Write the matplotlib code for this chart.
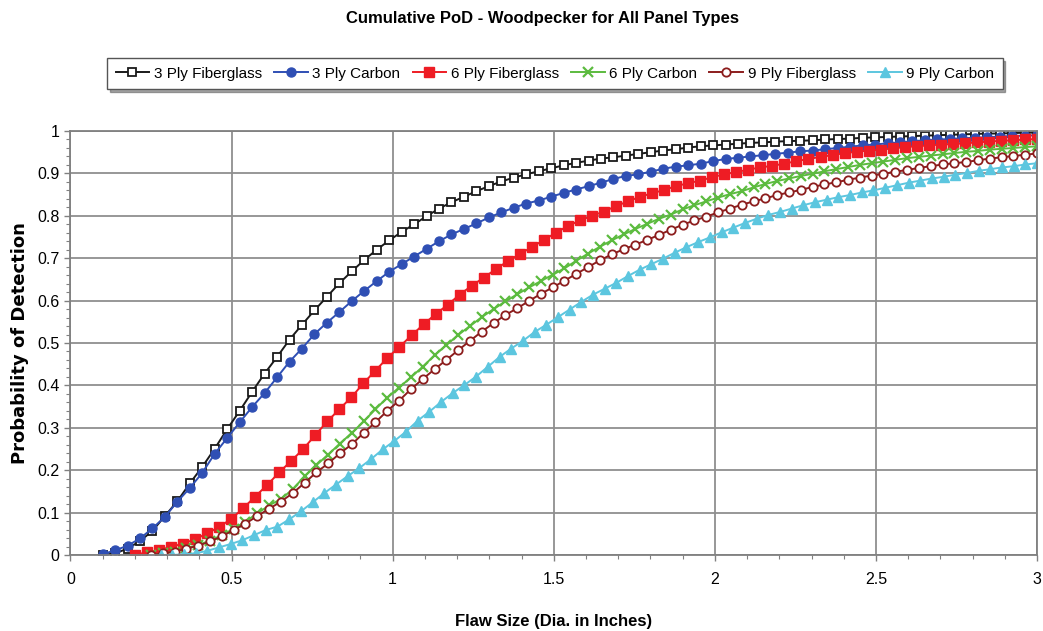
import numpy as np
import matplotlib
matplotlib.use("Agg")
import matplotlib.pyplot as plt
from matplotlib.ticker import MultipleLocator

# ---------------- data ----------------
series_names = ["3 Ply Fiberglass", "3 Ply Carbon", "6 Ply Fiberglass",
                "6 Ply Carbon", "9 Ply Fiberglass", "9 Ply Carbon"]
x_start = [0.10, 0.10, 0.20, 0.25, 0.25, 0.28]
x_end = 3.0

pod_3ply_fg = [0.000, 0.004, 0.015, 0.033, 0.057, 0.092, 0.127, 0.169, 0.208, 0.251,
               0.297, 0.340, 0.385, 0.428, 0.467, 0.508, 0.543, 0.577, 0.609, 0.641,
               0.669, 0.696, 0.720, 0.742, 0.762, 0.780, 0.799, 0.817, 0.832, 0.845,
               0.858, 0.870, 0.881, 0.890, 0.898, 0.905, 0.912, 0.919, 0.925, 0.930,
               0.935, 0.938, 0.942, 0.946, 0.950, 0.954, 0.957, 0.961, 0.964, 0.966,
               0.968, 0.970, 0.972, 0.973, 0.975, 0.976, 0.977, 0.978, 0.980, 0.981,
               0.982, 0.984, 0.985, 0.986, 0.987, 0.988, 0.989, 0.990, 0.991, 0.992,
               0.993, 0.994, 0.994, 0.995, 0.996, 0.996]

pod_3ply_c = [0.002, 0.011, 0.022, 0.039, 0.063, 0.090, 0.126, 0.158, 0.194, 0.239,
              0.276, 0.313, 0.349, 0.382, 0.419, 0.456, 0.487, 0.521, 0.548, 0.573,
              0.599, 0.623, 0.646, 0.668, 0.686, 0.704, 0.722, 0.740, 0.756, 0.769,
              0.782, 0.796, 0.808, 0.819, 0.829, 0.836, 0.845, 0.854, 0.862, 0.870,
              0.878, 0.887, 0.894, 0.898, 0.904, 0.911, 0.916, 0.919, 0.923, 0.929,
              0.934, 0.937, 0.940, 0.943, 0.946, 0.949, 0.952, 0.954, 0.957, 0.960,
              0.963, 0.966, 0.968, 0.971, 0.973, 0.976, 0.978, 0.980, 0.981, 0.983,
              0.984, 0.985, 0.987, 0.988, 0.989, 0.990]

pod_6ply_fg = [0.001, 0.006, 0.012, 0.019, 0.027, 0.037, 0.051, 0.066, 0.085, 0.110,
               0.138, 0.165, 0.195, 0.222, 0.250, 0.283, 0.315, 0.344, 0.372, 0.405,
               0.435, 0.465, 0.491, 0.518, 0.544, 0.568, 0.590, 0.614, 0.635, 0.654,
               0.674, 0.693, 0.710, 0.726, 0.743, 0.760, 0.776, 0.789, 0.800, 0.810,
               0.823, 0.834, 0.845, 0.853, 0.861, 0.870, 0.877, 0.883, 0.891, 0.898,
               0.903, 0.909, 0.914, 0.918, 0.923, 0.929, 0.934, 0.939, 0.943, 0.948,
               0.951, 0.954, 0.956, 0.959, 0.962, 0.964, 0.966, 0.968, 0.969, 0.971,
               0.973, 0.975, 0.977, 0.978, 0.980, 0.981]

pod_6ply_c = [0.000, 0.004, 0.008, 0.016, 0.024, 0.034, 0.047, 0.062, 0.079, 0.098,
              0.117, 0.132, 0.155, 0.186, 0.212, 0.237, 0.263, 0.288, 0.315, 0.344,
              0.371, 0.395, 0.419, 0.444, 0.471, 0.495, 0.519, 0.540, 0.561, 0.580,
              0.598, 0.615, 0.631, 0.646, 0.661, 0.676, 0.694, 0.711, 0.727, 0.742,
              0.756, 0.769, 0.781, 0.793, 0.803, 0.815, 0.825, 0.834, 0.843, 0.851,
              0.858, 0.867, 0.875, 0.882, 0.888, 0.894, 0.899, 0.905, 0.910, 0.915,
              0.920, 0.924, 0.928, 0.932, 0.936, 0.939, 0.942, 0.945, 0.948, 0.951,
              0.953, 0.956, 0.958, 0.960, 0.962, 0.964]

pod_9ply_fg = [0.000, 0.004, 0.008, 0.015, 0.022, 0.032, 0.044, 0.059, 0.074, 0.092,
               0.109, 0.126, 0.146, 0.170, 0.195, 0.216, 0.240, 0.261, 0.288, 0.313,
               0.340, 0.364, 0.391, 0.415, 0.438, 0.460, 0.483, 0.505, 0.527, 0.547,
               0.566, 0.582, 0.599, 0.616, 0.631, 0.647, 0.663, 0.679, 0.695, 0.709,
               0.721, 0.732, 0.743, 0.755, 0.767, 0.779, 0.789, 0.798, 0.808, 0.817,
               0.826, 0.834, 0.841, 0.849, 0.855, 0.861, 0.868, 0.874, 0.879, 0.885,
               0.890, 0.895, 0.899, 0.904, 0.908, 0.913, 0.917, 0.921, 0.924, 0.927,
               0.931, 0.935, 0.938, 0.941, 0.944, 0.947]

pod_9ply_c = [0.000, 0.000, 0.002, 0.004, 0.010, 0.018, 0.026, 0.035, 0.047, 0.059,
              0.067, 0.084, 0.103, 0.124, 0.146, 0.166, 0.186, 0.205, 0.226, 0.249,
              0.269, 0.291, 0.317, 0.338, 0.361, 0.382, 0.401, 0.421, 0.444, 0.467,
              0.487, 0.505, 0.526, 0.543, 0.561, 0.579, 0.597, 0.614, 0.628, 0.642,
              0.658, 0.673, 0.686, 0.699, 0.713, 0.726, 0.738, 0.749, 0.761, 0.772,
              0.783, 0.793, 0.802, 0.809, 0.817, 0.825, 0.832, 0.838, 0.844, 0.849,
              0.855, 0.860, 0.866, 0.872, 0.878, 0.883, 0.888, 0.892, 0.897, 0.901,
              0.906, 0.910, 0.914, 0.917, 0.921, 0.924]

series_values = [pod_3ply_fg, pod_3ply_c, pod_6ply_fg, pod_6ply_c, pod_9ply_fg, pod_9ply_c]

x_ticks = [0, 0.5, 1, 1.5, 2, 2.5, 3]
x_tick_labels = ["0", "0.5", "1", "1.5", "2", "2.5", "3"]
y_ticks = [0, 0.1, 0.2, 0.3, 0.4, 0.5, 0.6, 0.7, 0.8, 0.9, 1.0]
y_tick_labels = ["0", "0.1", "0.2", "0.3", "0.4", "0.5", "0.6", "0.7", "0.8", "0.9", "1"]

title = "Cumulative PoD - Woodpecker for All Panel Types"
x_label = "Flaw Size (Dia. in Inches)"
y_label = "Probability of Detection"

# ---------------- styles ----------------
styles = [
    dict(color="#1a1a1a", marker="s", mfc="white", mec="#1a1a1a", ms=6.0, mew=1.3),
    dict(color="#2f4fb4", marker="o", mfc="#2f4fb4", mec="#2f4fb4", ms=6.5, mew=1.0),
    dict(color="#ee1c24", marker="s", mfc="#ee1c24", mec="#ee1c24", ms=7.0, mew=1.0),
    dict(color="#5cbb3f", marker="x", mfc="#5cbb3f", mec="#5cbb3f", ms=7.0, mew=1.6),
    dict(color="#8c1d1d", marker="o", mfc="white", mec="#8c1d1d", ms=6.0, mew=1.3),
    dict(color="#5cc6df", marker="^", mfc="#5cc6df", mec="#5cc6df", ms=7.5, mew=1.0),
]

narrow = ["Liberation Sans Narrow", "Liberation Sans", "DejaVu Sans"]

fig = plt.figure(figsize=(10.43, 6.31), dpi=100)
fig.patch.set_facecolor("white")
ax = fig.add_axes([0.0675, 0.1204, 0.9268, 0.672])

handles = []
for name, vals, x0, st in zip(series_names, series_values, x_start, styles):
    xs = np.linspace(x0, x_end, len(vals))
    h, = ax.plot(xs, vals, label=name, linewidth=1.4, **st)
    handles.append(h)

ax.set_xlim(0, 3)
ax.set_ylim(0, 1)
ax.set_xticks(x_ticks)
ax.set_xticklabels(x_tick_labels, fontfamily=narrow, fontsize=11.5)
ax.set_yticks(y_ticks)
ax.set_yticklabels(y_tick_labels, fontfamily=narrow, fontsize=11.5)
ax.xaxis.set_minor_locator(MultipleLocator(0.1))
ax.yaxis.set_minor_locator(MultipleLocator(0.02))
ax.tick_params(axis="both", which="major", direction="out", length=4, color="#808080", width=1.0)
ax.tick_params(axis="both", which="minor", direction="out", length=3, color="#808080", width=0.8)
ax.tick_params(axis="x", pad=8)
ax.tick_params(axis="y", pad=4)

ax.grid(True, which="major", color="#8f8f8f", linewidth=1.3)
ax.set_axisbelow(True)
for sp in ax.spines.values():
    sp.set_color("#808080")
    sp.set_linewidth(1.3)

ax.set_xlabel(x_label, fontfamily=narrow, fontweight="bold", fontsize=12, labelpad=20)
ax.set_ylabel(y_label, fontfamily=["DejaVu Sans"], fontweight="bold", fontsize=13, labelpad=8)
ax.yaxis.set_label_coords(-0.043, 0.5)

fig.text(0.52, 0.971, title, ha="center", va="center", fontfamily=narrow,
         fontweight="bold", fontsize=12)

leg = fig.legend(handles=handles, loc="center", bbox_to_anchor=(0.532, 0.883), ncol=6,
                 prop={"family": narrow, "size": 11}, frameon=True, fancybox=False,
                 shadow=True, edgecolor="#555555", handlelength=2.2, handletextpad=0.3,
                 columnspacing=0.8, borderpad=0.55)
leg.get_frame().set_linewidth(1.0)

fig.savefig("out.png", dpi=100, facecolor="white")
